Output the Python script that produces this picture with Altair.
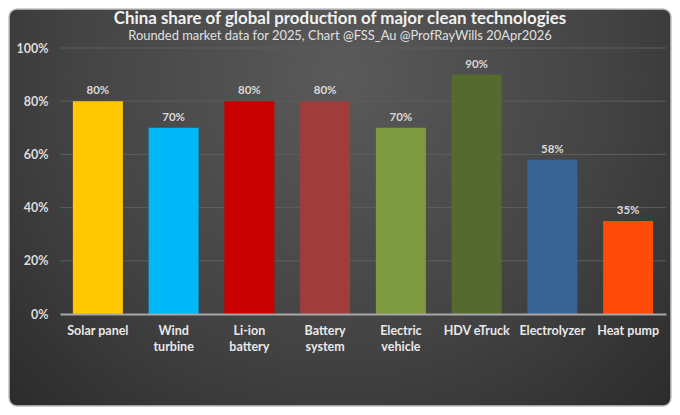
import altair as alt
import pandas as pd

categories = ["Solar panel", "Wind turbine", "Li-ion battery", "Battery system",
              "Electric vehicle", "HDV eTruck", "Electrolyzer", "Heat pump"]
shares = [80, 70, 80, 80, 70, 90, 58, 35]
colors = ["#FFC800", "#00B8F8", "#C80000", "#A03C3C",
          "#7E9A40", "#556A2E", "#3A6496", "#FF4A08"]
grid_values = [20, 40, 60, 80, 100]
y_ticks = [0, 20, 40, 60, 80, 100]

title_text = "China share of global production of major clean technologies"
subtitle_text = "Rounded market data for 2025, Chart @FSS_Au @ProfRayWills 20Apr2026"

df = pd.DataFrame({
    "cat": categories,
    "frac": [s / 100 for s in shares],
    "label": [f"{s}%" for s in shares],
})
grid_df = pd.DataFrame({"frac": [g / 100 for g in grid_values]})
bg_df = pd.DataFrame({"z": [0]})
title_df = pd.DataFrame({"t": [title_text]})
subtitle_df = pd.DataFrame({"t": [subtitle_text]})

W, H = 606, 266
PAD = {"left": 52, "top": 40, "right": 6, "bottom": 93}

yscale = alt.Scale(domain=[0, 1])
FONT = "Lato"

x_enc = alt.X(
    "cat:N", sort=categories,
    scale=alt.Scale(paddingInner=0.34, paddingOuter=0.17),
    axis=alt.Axis(
        title=None, labelAngle=0, ticks=False,
        domain=True, domainColor="#a8a8a8", domainWidth=2,
        labelFont=FONT, labelFontSize=12.5, labelFontWeight="bold",
        labelColor="#e8e8e8", labelPadding=10, labelLineHeight=16,
        labelExpr="indexof(['Solar panel','HDV eTruck','Heat pump'], datum.label) >= 0 ? datum.label : split(datum.label, ' ')",
        zindex=1,
    ),
)
y_enc = alt.Y(
    "frac:Q", scale=yscale,
    axis=alt.Axis(
        title=None, format=".0%", values=[v / 100 for v in y_ticks],
        grid=False, domain=False, ticks=False,
        labelFont=FONT, labelFontSize=12.5, labelFontWeight="bold",
        labelColor="#dcdcdc", labelPadding=12, zindex=1,
    ),
)

background = alt.Chart(bg_df).mark_rect(
    fill=alt.RadialGradient(
        gradient="radial", x1=0.5, y1=0.3, r1=0, x2=0.5, y2=0.3, r2=0.75,
        stops=[alt.GradientStop(offset=0, color="#5a5a5a"),
               alt.GradientStop(offset=0.55, color="#434343"),
               alt.GradientStop(offset=1, color="#282828")],
    ),
    stroke="#c4c4c4", strokeWidth=1.5, cornerRadius=8,
).encode(
    x=alt.value(-PAD["left"] + 1), x2=alt.value(W + PAD["right"] - 1),
    y=alt.value(-PAD["top"] + 1), y2=alt.value(H + PAD["bottom"] - 1),
)

title = alt.Chart(title_df).mark_text(
    font=FONT, fontSize=16.9, fontWeight="bold", color="#f2f2f2",
    align="center", baseline="middle",
).encode(x=alt.value(W / 2 - 23), y=alt.value(-29), text="t:N")

subtitle = alt.Chart(subtitle_df).mark_text(
    font=FONT, fontSize=12.9, color="#e0e0e0",
    align="center", baseline="middle",
).encode(x=alt.value(W / 2 - 23), y=alt.value(-12), text="t:N")

grid = alt.Chart(grid_df).mark_rule(color="#5e5e5e", strokeWidth=1).encode(
    y=alt.Y("frac:Q", scale=yscale)
)

bars = alt.Chart(df).mark_bar(strokeWidth=0).encode(
    x=x_enc, y=y_enc,
    color=alt.Color("cat:N", sort=categories,
                    scale=alt.Scale(domain=categories, range=colors), legend=None),
)

labels = alt.Chart(df).mark_text(
    font=FONT, fontSize=11.5, fontWeight="bold", color="#d9d9d9",
    baseline="bottom", dy=-5,
).encode(
    x=alt.X("cat:N", sort=categories), y=alt.Y("frac:Q", scale=yscale),
    text="label:N",
)

chart = alt.layer(background, grid, bars, labels, title, subtitle).properties(
    width=W, height=H,
    padding=PAD,
    autosize=alt.AutoSizeParams(type="none"),
    background="white",
).configure_view(stroke=None)

chart.save("out.html", embed_options={"renderer": "svg", "actions": False})
